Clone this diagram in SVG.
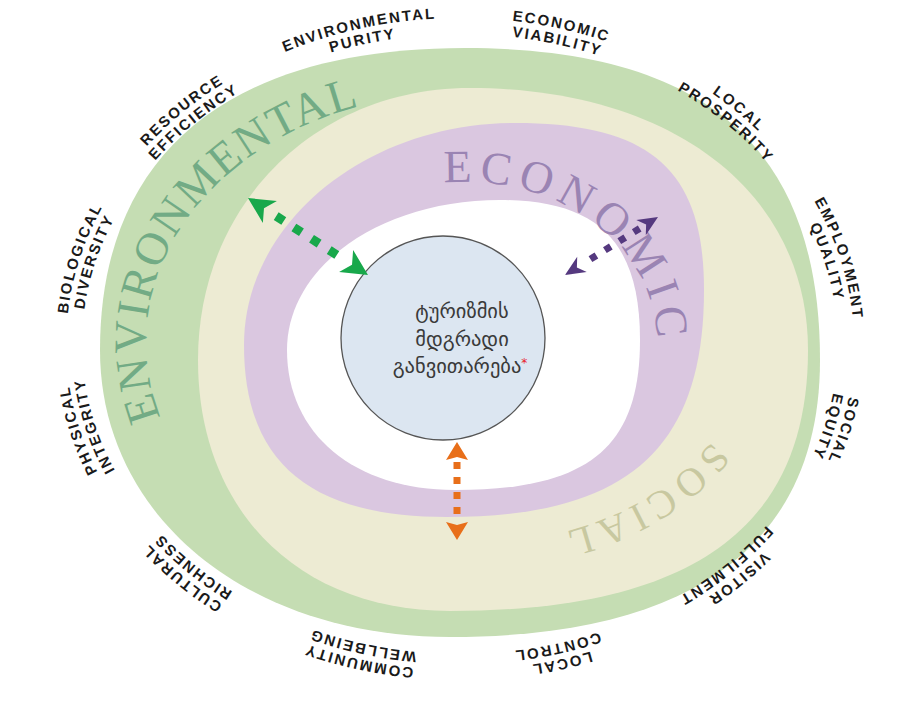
<svg xmlns="http://www.w3.org/2000/svg" xmlns:xlink="http://www.w3.org/1999/xlink" width="917" height="702" viewBox="0 0 917 702">
<style>
.lb{font-family:"Liberation Sans",Arial,sans-serif;font-weight:bold;font-size:15px;letter-spacing:2px;text-anchor:middle;fill:#1a1a1a}
.big{font-family:"Liberation Serif","Times New Roman",serif;text-anchor:middle}
.env{font-size:46px;letter-spacing:2px;fill:#72ab85}
.eco{font-size:46px;letter-spacing:7px;fill:#9a84b3}
.soc{font-size:40px;letter-spacing:6px;fill:#c8c8a0}
.ctr{font-family:"DejaVu Sans","Noto Sans",sans-serif;font-size:20.5px;fill:#3a3a3a;text-anchor:middle}
.arr{fill:none;stroke-linecap:butt}
</style>
<defs>
<marker id="mg" viewBox="-28 -15 30 30" markerWidth="30" markerHeight="30" refX="0" refY="0" orient="auto-start-reverse" markerUnits="userSpaceOnUse"><path d="M0,0 L-26,-13 L-19,0 L-26,13 Z" fill="#18a84b"/></marker>
<marker id="mp" viewBox="-22 -11 24 22" markerWidth="24" markerHeight="22" refX="0" refY="0" orient="auto-start-reverse" markerUnits="userSpaceOnUse"><path d="M0,0 L-20,-9 L-14,0 L-20,9 Z" fill="#55397f"/></marker>
<marker id="mo" viewBox="-20 -12 22 24" markerWidth="22" markerHeight="24" refX="0" refY="0" orient="auto-start-reverse" markerUnits="userSpaceOnUse"><path d="M0,0 L-18,-11 L-15,0 L-18,11 Z" fill="#e86f1a"/></marker>
<path id="penv" d="M188.1,466.5 A314,249 0 0 1 416.3,95.4"/>
<path id="peco" d="M405.7,189.8 A192,160 0 0 1 650.5,383.4"/>
<path id="psoc" d="M729.4,413.1 A276,199 0 0 1 527.4,539.6"/>
<path id="l1o" d="M257.1,64.6 A394,326 0 0 1 466.9,18.0"/>
<path id="l1i" d="M265.3,78.3 A378,310 0 0 1 466.6,34.0"/>
<path id="l2o" d="M453.1,18.0 A394,326 0 0 1 662.9,64.6"/>
<path id="l2i" d="M453.4,34.0 A378,310 0 0 1 654.7,78.3"/>
<path id="l3o" d="M651.0,58.9 A394,326 0 0 1 804.6,186.0"/>
<path id="l3i" d="M643.3,72.9 A378,310 0 0 1 790.6,193.7"/>
<path id="l4o" d="M797.7,176.1 A394,326 0 0 1 853.9,349.7"/>
<path id="l4i" d="M784.0,184.4 A378,310 0 0 1 837.9,349.4"/>
<path id="l5o" d="M853.9,338.3 A394,326 0 0 1 797.7,511.9"/>
<path id="l5i" d="M837.9,338.6 A378,310 0 0 1 784.0,503.7"/>
<path id="l6o" d="M804.6,502.0 A394,326 0 0 1 651.0,629.1"/>
<path id="l6i" d="M790.6,494.3 A378,310 0 0 1 643.3,615.1"/>
<path id="l7o" d="M662.9,623.4 A394,326 0 0 1 453.1,670.0"/>
<path id="l7i" d="M654.7,609.7 A378,310 0 0 1 453.4,654.0"/>
<path id="l8o" d="M466.9,670.0 A394,326 0 0 1 257.1,623.4"/>
<path id="l8i" d="M466.6,654.0 A378,310 0 0 1 265.3,609.7"/>
<path id="l9o" d="M269.0,629.1 A394,326 0 0 1 115.4,502.0"/>
<path id="l9i" d="M276.7,615.1 A378,310 0 0 1 129.4,494.3"/>
<path id="l10o" d="M122.3,511.9 A394,326 0 0 1 66.1,338.3"/>
<path id="l10i" d="M136.0,503.7 A378,310 0 0 1 82.1,338.6"/>
<path id="l11o" d="M66.1,349.7 A394,326 0 0 1 122.3,176.1"/>
<path id="l11i" d="M82.1,349.4 A378,310 0 0 1 136.0,184.4"/>
<path id="l12o" d="M115.4,186.0 A394,326 0 0 1 269.0,58.9"/>
<path id="l12i" d="M129.4,193.7 A378,310 0 0 1 276.7,72.9"/>
</defs>
<rect width="917" height="702" fill="#ffffff"/>
<g id="bands">
<path id="band-environmental" d="M100,350 C100,154 228,48 465,48 C706,48 820,148 820,360 C820,543 694,637 450,637 C247,637 100,516 100,350 Z" fill="#c5ddb3"/>
<path id="band-social" d="M198,360 C198,205 315,88 470,88 C673,88 808,193 808,350 C808,527 693,611 450,611 C299,611 198,511 198,360 Z" fill="#edebd3"/>
<path id="band-economic" d="M244,345 C244,223 366,123 515,123 C651,123 704,170 704,290 C704,449 627,517 447,517 C309,517 244,462 244,345 Z" fill="#dac7e0"/>
<path id="band-core" d="M287,350 C287,266 381,200 500,200 C598,200 640,242 640,340 C640,448 588,490 455,490 C354,490 287,434 287,350 Z" fill="#ffffff"/>
</g>
<g id="band-titles">
<text class="big env"><textPath xlink:href="#penv" href="#penv" startOffset="50%">ENVIRONMENTAL</textPath></text>
<text class="big eco"><textPath xlink:href="#peco" href="#peco" startOffset="50%">ECONOMIC</textPath></text>
<text class="big soc"><textPath xlink:href="#psoc" href="#psoc" startOffset="50%">SOCIAL</textPath></text>
</g>
<g id="labels">
<g id="lbl-environmental-purity"><text class="lb"><textPath href="#l1o" startOffset="50%">ENVIRONMENTAL</textPath></text><text class="lb"><textPath href="#l1i" startOffset="50%">PURITY</textPath></text></g>
<g id="lbl-economic-viability"><text class="lb"><textPath href="#l2o" startOffset="50%">ECONOMIC</textPath></text><text class="lb"><textPath href="#l2i" startOffset="50%">VIABILITY</textPath></text></g>
<g id="lbl-local-prosperity"><text class="lb"><textPath href="#l3o" startOffset="50%">LOCAL</textPath></text><text class="lb"><textPath href="#l3i" startOffset="50%">PROSPERITY</textPath></text></g>
<g id="lbl-employment-quality"><text class="lb"><textPath href="#l4o" startOffset="50%">EMPLOYMENT</textPath></text><text class="lb"><textPath href="#l4i" startOffset="50%">QUALITY</textPath></text></g>
<g id="lbl-social-equity"><text class="lb"><textPath href="#l5o" startOffset="50%">SOCIAL</textPath></text><text class="lb"><textPath href="#l5i" startOffset="50%">EQUITY</textPath></text></g>
<g id="lbl-visitor-fulfilment"><text class="lb"><textPath href="#l6o" startOffset="50%">VISITOR</textPath></text><text class="lb"><textPath href="#l6i" startOffset="50%">FULFILMENT</textPath></text></g>
<g id="lbl-local-control"><text class="lb"><textPath href="#l7o" startOffset="50%">LOCAL</textPath></text><text class="lb"><textPath href="#l7i" startOffset="50%">CONTROL</textPath></text></g>
<g id="lbl-community-wellbeing"><text class="lb"><textPath href="#l8o" startOffset="50%">COMMUNITY</textPath></text><text class="lb"><textPath href="#l8i" startOffset="50%">WELLBEING</textPath></text></g>
<g id="lbl-cultural-richness"><text class="lb"><textPath href="#l9o" startOffset="50%">CULTURAL</textPath></text><text class="lb"><textPath href="#l9i" startOffset="50%">RICHNESS</textPath></text></g>
<g id="lbl-physical-integrity"><text class="lb"><textPath href="#l10o" startOffset="50%">PHYSICAL</textPath></text><text class="lb"><textPath href="#l10i" startOffset="50%">INTEGRITY</textPath></text></g>
<g id="lbl-biological-diversity"><text class="lb"><textPath href="#l11o" startOffset="50%">BIOLOGICAL</textPath></text><text class="lb"><textPath href="#l11i" startOffset="50%">DIVERSITY</textPath></text></g>
<g id="lbl-resource-efficiency"><text class="lb"><textPath href="#l12o" startOffset="50%">RESOURCE</textPath></text><text class="lb"><textPath href="#l12i" startOffset="50%">EFFICIENCY</textPath></text></g>
</g>
<g id="center-node">
<circle cx="443" cy="338" r="102" fill="#dce6f1" stroke="#555" stroke-width="1.3"/>
<text class="ctr" x="462" y="318">ტურიზმის</text>
<text class="ctr" x="462" y="346">მდგრადი</text>
<text class="ctr" x="460" y="373">განვითარება<tspan fill="#e8202a" font-size="12" dy="-6">*</tspan></text>
</g>
<g id="connectors">
<path class="arr" d="M248,198 L368,275" stroke="#18a84b" stroke-width="9" stroke-dasharray="0 33.5 9 12 9 12 9 12 9 60" marker-start="url(#mg)" marker-end="url(#mg)"/>
<path class="arr" d="M565,275 L658,217" stroke="#55397f" stroke-width="7" stroke-dasharray="0 30 7 10 7 10 7 10 7 40" marker-start="url(#mp)" marker-end="url(#mp)"/>
<path class="arr" d="M457,442 L457,540" stroke="#e86f1a" stroke-width="7" stroke-dasharray="0 20 7 8 7 8 7 8 7 40" marker-start="url(#mo)" marker-end="url(#mo)"/>
</g>
</svg>
